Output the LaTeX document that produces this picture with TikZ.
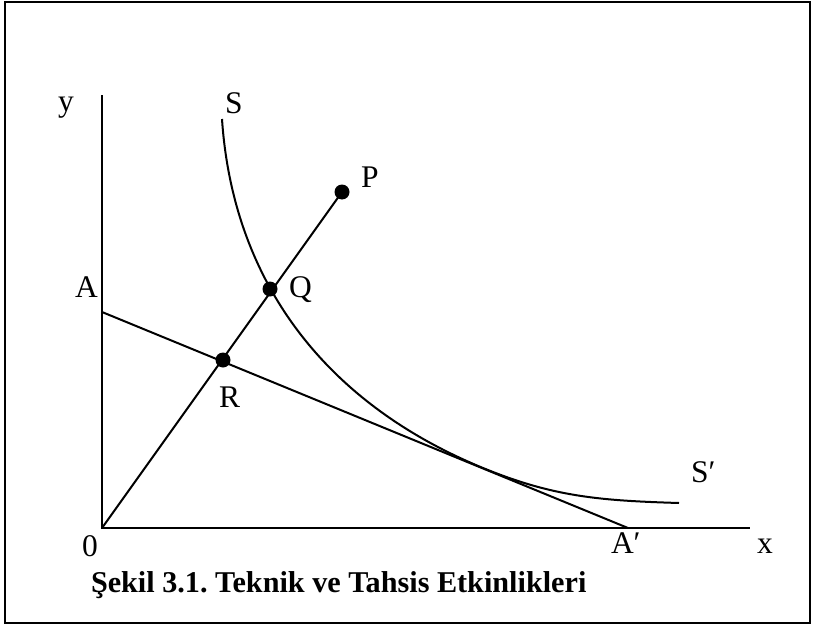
\documentclass[tikz,border=0pt]{standalone}
\usepackage{fontspec}
\setmainfont{Liberation Serif}
\frenchspacing
\begin{document}
\begin{tikzpicture}[x=1pt,y=-1pt, line width=2pt,
  lbl/.style={anchor=base west, inner sep=0pt, outer sep=0pt, font=\fontsize{31.5}{31.5}\selectfont},
  captiontext/.style={anchor=base west, inner sep=0pt, outer sep=0pt, font=\bfseries\fontsize{30.2}{30.2}\selectfont},
  dot/.style={circle, fill=black, minimum size=15pt, inner sep=0pt},
  axisline/.style={line width=2.4pt},
  frame/.style={line width=1.6pt}]
\useasboundingbox (0,0) rectangle (814,626);
\draw[frame] (5,2) rectangle (810,623);
% coordinates
\coordinate (O) at (102,528);
\coordinate (Ytop) at (102,95);
\coordinate (Xend) at (750,528);
\coordinate (Astart) at (102,312);
\coordinate (Aend) at (628,528);
\coordinate (T) at (483,468);
\coordinate (Sstart) at (222,119);
\coordinate (Send) at (679,503);
% axes
\draw[axisline] (Ytop) -- (O) -- (Xend);
% budget line
\draw (Astart) -- (Aend);
% isoquant
\draw (Sstart) .. controls (232,269) and (313,398) .. (T)
      .. controls (553,496.7) and (599,500.6) .. (Send);
% ray and points
\node[dot] (P) at (342,192) {};
\node[dot] (Q) at (270,289) {};
\node[dot] (R) at (223,360) {};
\draw (O) -- (P.center);
% labels
\node[lbl] (ly) at (58,111) {y};
\node[lbl] (lS) at (225,113) {S};
\node[lbl] (lP) at (361,187) {P};
\node[lbl] (lQ) at (289,297) {Q};
\node[lbl] (lA) at (75,297) {A};
\node[lbl] (lR) at (219,407) {R};
\node[lbl] (lS2) at (691,482) {S′};
\node[lbl] (l0) at (82,556) {0};
\node[lbl] (lA2) at (611,553) {A′};
\node[lbl] (lx) at (757,553) {x};
\node[captiontext] (caption) at (91,592) {Şekil 3.1. Teknik ve Tahsis Etkinlikleri};
\end{tikzpicture}
\end{document}
